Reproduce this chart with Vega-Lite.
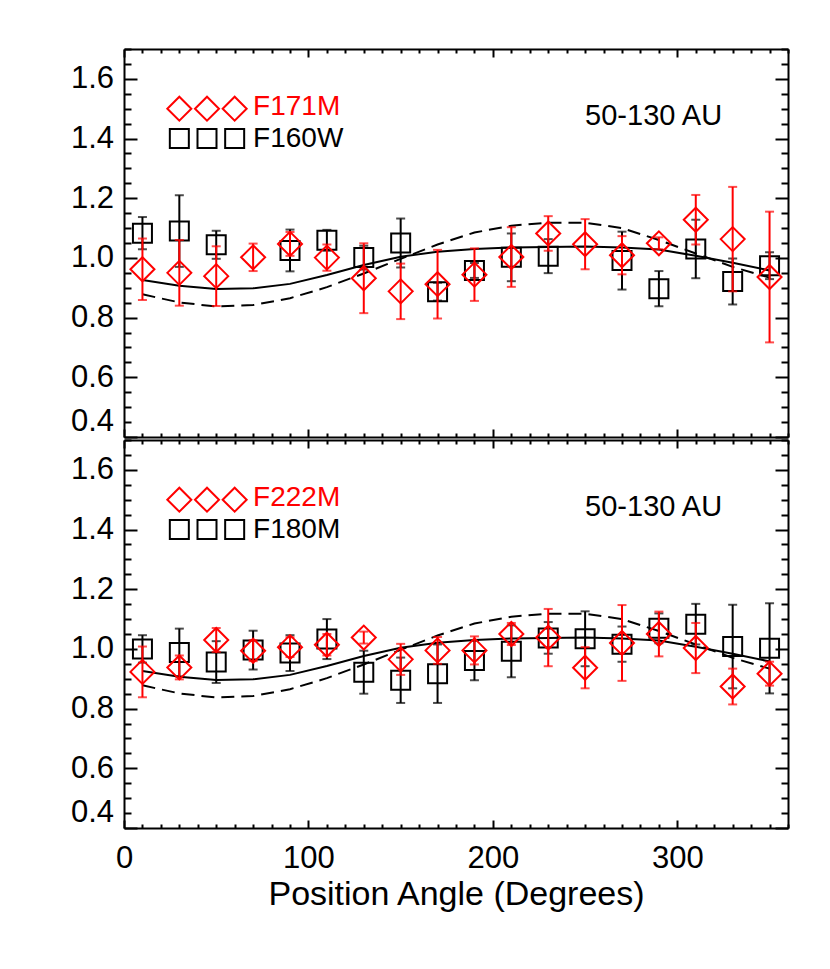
{
  "$schema": "https://vega.github.io/schema/vega-lite/v6.json",
  "background": "white",
  "padding": {"left": 70, "top": 47, "right": 5, "bottom": 5},
  "spacing": 0,
  "config": {
    "view": {"stroke": null},
    "font": "Liberation Sans",
    "axis": {"grid": false, "domainColor": "black", "domainWidth": 2, "tickColor": "black", "tickWidth": 2, "labelColor": "black", "titleColor": "black", "labelFont": "Liberation Sans", "titleFont": "Liberation Sans", "labelOverlap": false}
  },
  "datasets": {
    "model": [
      {"angle": 10, "solid": 0.926, "dashed": 0.878},
      {"angle": 30, "solid": 0.907, "dashed": 0.851},
      {"angle": 50, "solid": 0.896, "dashed": 0.837},
      {"angle": 70, "solid": 0.898, "dashed": 0.842},
      {"angle": 90, "solid": 0.913, "dashed": 0.865},
      {"angle": 110, "solid": 0.943, "dashed": 0.902},
      {"angle": 130, "solid": 0.976, "dashed": 0.948},
      {"angle": 150, "solid": 1.004, "dashed": 0.997},
      {"angle": 170, "solid": 1.021, "dashed": 1.045},
      {"angle": 190, "solid": 1.030, "dashed": 1.085},
      {"angle": 210, "solid": 1.035, "dashed": 1.108},
      {"angle": 230, "solid": 1.037, "dashed": 1.118},
      {"angle": 250, "solid": 1.038, "dashed": 1.118},
      {"angle": 270, "solid": 1.035, "dashed": 1.100},
      {"angle": 290, "solid": 1.028, "dashed": 1.060},
      {"angle": 310, "solid": 1.007, "dashed": 1.015},
      {"angle": 330, "solid": 0.984, "dashed": 0.970},
      {"angle": 350, "solid": 0.958, "dashed": 0.934}
    ],
    "sq_top": [
      {"angle": 10, "value": 1.083, "err": 0.054},
      {"angle": 30, "value": 1.090, "err": 0.12},
      {"angle": 50, "value": 1.044, "err": 0.047},
      {"angle": 90, "value": 1.025, "err": 0.07},
      {"angle": 110, "value": 1.059, "err": 0.035},
      {"angle": 130, "value": 1.001, "err": 0.04},
      {"angle": 150, "value": 1.050, "err": 0.082},
      {"angle": 170, "value": 0.887, "err": 0.03},
      {"angle": 190, "value": 0.958, "err": 0.025},
      {"angle": 210, "value": 1.002, "err": 0.08},
      {"angle": 230, "value": 1.006, "err": 0.057},
      {"angle": 270, "value": 0.991, "err": 0.097},
      {"angle": 290, "value": 0.897, "err": 0.059},
      {"angle": 310, "value": 1.030, "err": 0.098},
      {"angle": 330, "value": 0.921, "err": 0.077},
      {"angle": 350, "value": 0.974, "err": 0.045}
    ],
    "di_top": [
      {"angle": 10, "value": 0.962, "err": 0.103},
      {"angle": 30, "value": 0.950, "err": 0.11},
      {"angle": 50, "value": 0.939, "err": 0.10},
      {"angle": 70, "value": 1.002, "err": 0.046},
      {"angle": 90, "value": 1.047, "err": 0.04},
      {"angle": 110, "value": 1.001, "err": 0.044},
      {"angle": 130, "value": 0.932, "err": 0.117},
      {"angle": 150, "value": 0.888, "err": 0.093},
      {"angle": 170, "value": 0.912, "err": 0.115},
      {"angle": 190, "value": 0.944, "err": 0.088},
      {"angle": 210, "value": 1.003, "err": 0.10},
      {"angle": 230, "value": 1.082, "err": 0.058},
      {"angle": 250, "value": 1.046, "err": 0.084},
      {"angle": 270, "value": 1.009, "err": 0.064},
      {"angle": 290, "value": 1.049, "err": 0.02},
      {"angle": 310, "value": 1.128, "err": 0.083},
      {"angle": 330, "value": 1.063, "err": 0.175},
      {"angle": 350, "value": 0.936, "err": 0.219}
    ],
    "sq_bot": [
      {"angle": 10, "value": 1.000, "err": 0.046},
      {"angle": 30, "value": 0.988, "err": 0.08},
      {"angle": 50, "value": 0.956, "err": 0.07},
      {"angle": 70, "value": 0.996, "err": 0.065},
      {"angle": 90, "value": 0.986, "err": 0.06},
      {"angle": 110, "value": 1.033, "err": 0.067},
      {"angle": 130, "value": 0.922, "err": 0.072},
      {"angle": 150, "value": 0.895, "err": 0.076},
      {"angle": 170, "value": 0.917, "err": 0.098},
      {"angle": 190, "value": 0.961, "err": 0.066},
      {"angle": 210, "value": 0.992, "err": 0.087},
      {"angle": 230, "value": 1.037, "err": 0.053},
      {"angle": 250, "value": 1.034, "err": 0.092},
      {"angle": 270, "value": 1.016, "err": 0.059},
      {"angle": 290, "value": 1.069, "err": 0.05},
      {"angle": 310, "value": 1.083, "err": 0.068},
      {"angle": 330, "value": 1.008, "err": 0.14},
      {"angle": 350, "value": 1.002, "err": 0.151}
    ],
    "di_bot": [
      {"angle": 10, "value": 0.923, "err": 0.085},
      {"angle": 30, "value": 0.938, "err": 0.04},
      {"angle": 50, "value": 1.030, "err": 0.04},
      {"angle": 70, "value": 0.994, "err": 0.035},
      {"angle": 90, "value": 1.006, "err": 0.033},
      {"angle": 110, "value": 1.014, "err": 0.036},
      {"angle": 130, "value": 1.038, "err": 0.02},
      {"angle": 150, "value": 0.965, "err": 0.052},
      {"angle": 170, "value": 0.995, "err": 0.045},
      {"angle": 190, "value": 0.995, "err": 0.047},
      {"angle": 210, "value": 1.050, "err": 0.037},
      {"angle": 230, "value": 1.038, "err": 0.096},
      {"angle": 250, "value": 0.937, "err": 0.069},
      {"angle": 270, "value": 1.020, "err": 0.127},
      {"angle": 290, "value": 1.050, "err": 0.075},
      {"angle": 310, "value": 1.003, "err": 0.084},
      {"angle": 330, "value": 0.874, "err": 0.06},
      {"angle": 350, "value": 0.917, "err": 0.04}
    ],
    "key_di": [
      {"angle": 30, "level": 1.5},
      {"angle": 45, "level": 1.5},
      {"angle": 60, "level": 1.5}
    ],
    "key_sq": [
      {"angle": 30, "level": 1.4},
      {"angle": 45, "level": 1.4},
      {"angle": 60, "level": 1.4}
    ]
  },
  "vconcat": [
    {
      "width": 664,
      "height": 388,
      "resolve": {"axis": {"x": "independent", "y": "independent"}},
      "layer": [
        {
          "data": {"name": "model"},
          "mark": {"type": "line", "color": "black", "strokeWidth": 2},
          "encoding": {
            "x": {"field": "angle", "type": "quantitative", "scale": {"domain": [0, 360], "nice": false, "zero": false},
              "axis": {"orient": "bottom", "title": null, "labels": false, "values": [0,10,20,30,40,50,60,70,80,90,100,110,120,130,140,150,160,170,180,190,200,210,220,230,240,250,260,270,280,290,300,310,320,330,340,350,360],
                "tickSize": {"condition": {"test": "datum.value % 100 === 0", "value": -8}, "value": -4}}},
            "y": {"field": "solid", "type": "quantitative", "scale": {"domain": [0.4, 1.7], "nice": false, "zero": false},
              "axis": {"orient": "left", "title": null, "format": ".1f", "labelFontSize": 31, "labelPadding": 23.4, "labelFlush": true,
                "values": [0.4,0.45,0.5,0.55,0.6,0.65,0.7,0.75,0.8,0.85,0.9,0.95,1,1.05,1.1,1.15,1.2,1.25,1.3,1.35,1.4,1.45,1.5,1.55,1.6,1.65,1.7],
                "labelExpr": "abs(datum.value*5 - round(datum.value*5)) < 0.01 ? datum.label : ''",
                "tickSize": {"condition": {"test": "abs(datum.value*5 - round(datum.value*5)) < 0.01", "value": -13}, "value": -7}}}
          }
        },
        {
          "data": {"name": "model"},
          "mark": {"type": "line", "color": "black", "strokeWidth": 2, "strokeDash": [13, 7]},
          "encoding": {
            "x": {"field": "angle", "type": "quantitative",
              "axis": {"orient": "top", "title": null, "labels": false, "values": [0,10,20,30,40,50,60,70,80,90,100,110,120,130,140,150,160,170,180,190,200,210,220,230,240,250,260,270,280,290,300,310,320,330,340,350,360],
                "tickSize": {"condition": {"test": "datum.value % 100 === 0", "value": -8}, "value": -4}}},
            "y": {"field": "dashed", "type": "quantitative",
              "axis": {"orient": "right", "title": null, "labels": false,
                "values": [0.4,0.45,0.5,0.55,0.6,0.65,0.7,0.75,0.8,0.85,0.9,0.95,1,1.05,1.1,1.15,1.2,1.25,1.3,1.35,1.4,1.45,1.5,1.55,1.6,1.65,1.7],
                "tickSize": {"condition": {"test": "abs(datum.value*5 - round(datum.value*5)) < 0.01", "value": -13}, "value": -7}}}
          }
        },
        {
          "data": {"name": "sq_top"},
          "mark": {"type": "errorbar", "color": "black", "thickness": 2, "rule": {"strokeWidth": 2, "color": "black"}, "ticks": {"size": 9, "thickness": 2, "color": "black"}},
          "encoding": {
            "x": {"field": "angle", "type": "quantitative", "axis": null},
            "y": {"field": "value", "type": "quantitative", "axis": null},
            "yError": {"field": "err"}
          }
        },
        {
          "data": {"name": "sq_top"},
          "mark": {"type": "point", "shape": "square", "filled": false, "color": "black", "strokeWidth": 2, "size": 361, "opacity": 1},
          "encoding": {
            "x": {"field": "angle", "type": "quantitative", "axis": null},
            "y": {"field": "value", "type": "quantitative", "axis": null}
          }
        },
        {
          "data": {"name": "di_top"},
          "mark": {"type": "errorbar", "color": "red", "thickness": 2, "rule": {"strokeWidth": 2, "color": "red"}, "ticks": {"size": 9, "thickness": 2, "color": "red"}},
          "encoding": {
            "x": {"field": "angle", "type": "quantitative", "axis": null},
            "y": {"field": "value", "type": "quantitative", "axis": null},
            "yError": {"field": "err"}
          }
        },
        {
          "data": {"name": "di_top"},
          "mark": {"type": "point", "shape": "diamond", "filled": false, "color": "red", "strokeWidth": 2, "size": 576, "opacity": 1},
          "encoding": {
            "x": {"field": "angle", "type": "quantitative", "axis": null},
            "y": {"field": "value", "type": "quantitative", "axis": null}
          }
        },
        {
          "data": {"name": "key_di"},
          "mark": {"type": "point", "shape": "diamond", "filled": false, "color": "red", "strokeWidth": 2, "size": 576, "opacity": 1},
          "encoding": {
            "x": {"field": "angle", "type": "quantitative", "axis": null},
            "y": {"field": "level", "type": "quantitative", "axis": null}
          }
        },
        {
          "data": {"name": "key_sq"},
          "mark": {"type": "point", "shape": "square", "filled": false, "color": "black", "strokeWidth": 2, "size": 361, "opacity": 1},
          "encoding": {
            "x": {"field": "angle", "type": "quantitative", "axis": null},
            "y": {"field": "level", "type": "quantitative", "axis": null}
          }
        },
        {
          "data": {"values": [{"label": "F171M"}]},
          "mark": {"type": "text", "align": "left", "baseline": "middle", "fontSize": 28, "color": "red"},
          "encoding": {
            "x": {"datum": 70, "type": "quantitative", "axis": null},
            "y": {"datum": 1.505, "type": "quantitative", "axis": null},
            "text": {"field": "label"}
          }
        },
        {
          "data": {"values": [{"label": "F160W"}]},
          "mark": {"type": "text", "align": "left", "baseline": "middle", "fontSize": 28, "color": "black"},
          "encoding": {
            "x": {"datum": 70, "type": "quantitative", "axis": null},
            "y": {"datum": 1.398, "type": "quantitative", "axis": null},
            "text": {"field": "label"}
          }
        },
        {
          "data": {"values": [{"label": "50-130 AU"}]},
          "mark": {"type": "text", "align": "left", "baseline": "middle", "fontSize": 29, "color": "black"},
          "encoding": {
            "x": {"datum": 250, "type": "quantitative", "axis": null},
            "y": {"datum": 1.477, "type": "quantitative", "axis": null},
            "text": {"field": "label"}
          }
        }
      ]
    },
    {
      "width": 664,
      "height": 388,
      "resolve": {"axis": {"x": "independent", "y": "independent"}},
      "layer": [
        {
          "data": {"name": "model"},
          "mark": {"type": "line", "color": "black", "strokeWidth": 2},
          "encoding": {
            "x": {"field": "angle", "type": "quantitative", "scale": {"domain": [0, 360], "nice": false, "zero": false},
              "axis": {"orient": "bottom", "title": "Position Angle (Degrees)", "titleFontSize": 34, "titleFontWeight": "normal", "titlePadding": 0,
                "format": "d", "labelFontSize": 31, "labelPadding": 23, "labelFlush": false,
                "labelExpr": "datum.value % 100 === 0 && datum.value < 360 ? datum.label : ''",
                "values": [0,10,20,30,40,50,60,70,80,90,100,110,120,130,140,150,160,170,180,190,200,210,220,230,240,250,260,270,280,290,300,310,320,330,340,350,360],
                "tickSize": {"condition": {"test": "datum.value % 100 === 0", "value": -8}, "value": -4}}},
            "y": {"field": "solid", "type": "quantitative", "scale": {"domain": [0.4, 1.7], "nice": false, "zero": false},
              "axis": {"orient": "left", "title": null, "format": ".1f", "labelFontSize": 31, "labelPadding": 23.4, "labelFlush": true,
                "values": [0.4,0.45,0.5,0.55,0.6,0.65,0.7,0.75,0.8,0.85,0.9,0.95,1,1.05,1.1,1.15,1.2,1.25,1.3,1.35,1.4,1.45,1.5,1.55,1.6,1.65,1.7],
                "labelExpr": "abs(datum.value*5 - round(datum.value*5)) < 0.01 ? datum.label : ''",
                "tickSize": {"condition": {"test": "abs(datum.value*5 - round(datum.value*5)) < 0.01", "value": -13}, "value": -7}}}
          }
        },
        {
          "data": {"name": "model"},
          "mark": {"type": "line", "color": "black", "strokeWidth": 2, "strokeDash": [13, 7]},
          "encoding": {
            "x": {"field": "angle", "type": "quantitative",
              "axis": {"orient": "top", "title": null, "labels": false, "values": [0,10,20,30,40,50,60,70,80,90,100,110,120,130,140,150,160,170,180,190,200,210,220,230,240,250,260,270,280,290,300,310,320,330,340,350,360],
                "tickSize": {"condition": {"test": "datum.value % 100 === 0", "value": -8}, "value": -4}}},
            "y": {"field": "dashed", "type": "quantitative",
              "axis": {"orient": "right", "title": null, "labels": false,
                "values": [0.4,0.45,0.5,0.55,0.6,0.65,0.7,0.75,0.8,0.85,0.9,0.95,1,1.05,1.1,1.15,1.2,1.25,1.3,1.35,1.4,1.45,1.5,1.55,1.6,1.65,1.7],
                "tickSize": {"condition": {"test": "abs(datum.value*5 - round(datum.value*5)) < 0.01", "value": -13}, "value": -7}}}
          }
        },
        {
          "data": {"name": "sq_bot"},
          "mark": {"type": "errorbar", "color": "black", "thickness": 2, "rule": {"strokeWidth": 2, "color": "black"}, "ticks": {"size": 9, "thickness": 2, "color": "black"}},
          "encoding": {
            "x": {"field": "angle", "type": "quantitative", "axis": null},
            "y": {"field": "value", "type": "quantitative", "axis": null},
            "yError": {"field": "err"}
          }
        },
        {
          "data": {"name": "sq_bot"},
          "mark": {"type": "point", "shape": "square", "filled": false, "color": "black", "strokeWidth": 2, "size": 361, "opacity": 1},
          "encoding": {
            "x": {"field": "angle", "type": "quantitative", "axis": null},
            "y": {"field": "value", "type": "quantitative", "axis": null}
          }
        },
        {
          "data": {"name": "di_bot"},
          "mark": {"type": "errorbar", "color": "red", "thickness": 2, "rule": {"strokeWidth": 2, "color": "red"}, "ticks": {"size": 9, "thickness": 2, "color": "red"}},
          "encoding": {
            "x": {"field": "angle", "type": "quantitative", "axis": null},
            "y": {"field": "value", "type": "quantitative", "axis": null},
            "yError": {"field": "err"}
          }
        },
        {
          "data": {"name": "di_bot"},
          "mark": {"type": "point", "shape": "diamond", "filled": false, "color": "red", "strokeWidth": 2, "size": 576, "opacity": 1},
          "encoding": {
            "x": {"field": "angle", "type": "quantitative", "axis": null},
            "y": {"field": "value", "type": "quantitative", "axis": null}
          }
        },
        {
          "data": {"name": "key_di"},
          "mark": {"type": "point", "shape": "diamond", "filled": false, "color": "red", "strokeWidth": 2, "size": 576, "opacity": 1},
          "encoding": {
            "x": {"field": "angle", "type": "quantitative", "axis": null},
            "y": {"field": "level", "type": "quantitative", "axis": null}
          }
        },
        {
          "data": {"name": "key_sq"},
          "mark": {"type": "point", "shape": "square", "filled": false, "color": "black", "strokeWidth": 2, "size": 361, "opacity": 1},
          "encoding": {
            "x": {"field": "angle", "type": "quantitative", "axis": null},
            "y": {"field": "level", "type": "quantitative", "axis": null}
          }
        },
        {
          "data": {"values": [{"label": "F222M"}]},
          "mark": {"type": "text", "align": "left", "baseline": "middle", "fontSize": 28, "color": "red"},
          "encoding": {
            "x": {"datum": 70, "type": "quantitative", "axis": null},
            "y": {"datum": 1.505, "type": "quantitative", "axis": null},
            "text": {"field": "label"}
          }
        },
        {
          "data": {"values": [{"label": "F180M"}]},
          "mark": {"type": "text", "align": "left", "baseline": "middle", "fontSize": 28, "color": "black"},
          "encoding": {
            "x": {"datum": 70, "type": "quantitative", "axis": null},
            "y": {"datum": 1.398, "type": "quantitative", "axis": null},
            "text": {"field": "label"}
          }
        },
        {
          "data": {"values": [{"label": "50-130 AU"}]},
          "mark": {"type": "text", "align": "left", "baseline": "middle", "fontSize": 29, "color": "black"},
          "encoding": {
            "x": {"datum": 250, "type": "quantitative", "axis": null},
            "y": {"datum": 1.477, "type": "quantitative", "axis": null},
            "text": {"field": "label"}
          }
        }
      ]
    }
  ]
}
